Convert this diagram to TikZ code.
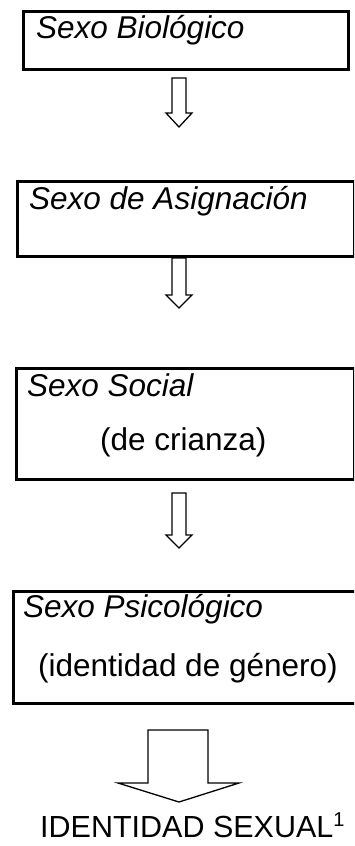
\documentclass[tikz,border=0pt]{standalone}
\usepackage{fontspec}
\usetikzlibrary{calc}
\setmainfont{Liberation Sans}
\begin{document}
\begin{tikzpicture}[x=1pt,y=-1pt,
  box/.style={draw=black,line width=2.6pt,rectangle,inner sep=0pt,anchor=north west},
  lbl/.style={anchor=base west,inner sep=0pt,font=\fontsize{31.5}{36}\selectfont},
  hollow/.style={draw=black,line width=1.3pt,line join=miter,fill=white}]
\clip (0,0) rectangle (354,846);
\useasboundingbox (0,0) rectangle (354,846);
% boxes
\node[box,minimum width=325pt,minimum height=58pt] (b1) at (22,10) {};
\node[box,minimum width=337pt,minimum height=75pt] (b2) at (16,180) {};
\node[box,minimum width=338pt,minimum height=111pt] (b3) at (15,367) {};
\node[box,minimum width=350pt,minimum height=112pt] (b4) at (12,590) {};
% texts
\node[lbl] (t1) at (36,38) {\itshape Sexo Biológico};
\node[lbl] (t2) at (29,209) {\itshape Sexo de Asignación};
\node[lbl] (t3) at (27,396) {\itshape Sexo Social};
\node[lbl] (t3b) at (100,450) {(de crianza)};
\node[lbl] (t4) at (23,617) {\itshape Sexo Psicológico};
\node[lbl] (t4b) at (38,676) {(identidad de género)};
\node[lbl,font=\fontsize{30.5}{36}\selectfont] (res) at (40,837) {IDENTIDAD SEXUAL\raisebox{11pt}{\fontsize{20}{20}\selectfont 1}};
% arrow anchors
\coordinate (a1) at (179,78);
\coordinate (a2) at (179,258);
\coordinate (a3) at (179,493);
\coordinate (a4) at (178,730);
% small hollow arrows
\foreach \c/\h/\t in {a1/35/49, a2/37/50, a3/42/55}{
  \draw[hollow] (\c) ++(-7,0) -- ++(0,\h) -- ++(-6,0) -- ($(\c)+(0,\t)$) -- ($(\c)+(13,\h)$) -- ++(-6,0) -- ($(\c)+(7,0)$) -- cycle;
}
% big hollow arrow
\draw[hollow] (a4) ++(-30,0) -- ++(0,53) -- ++(-30,0) -- ($(a4)+(1,72)$) -- ($(a4)+(61,53)$) -- ++(-31,0) -- ($(a4)+(30,0)$) -- cycle;
\end{tikzpicture}
\end{document}
